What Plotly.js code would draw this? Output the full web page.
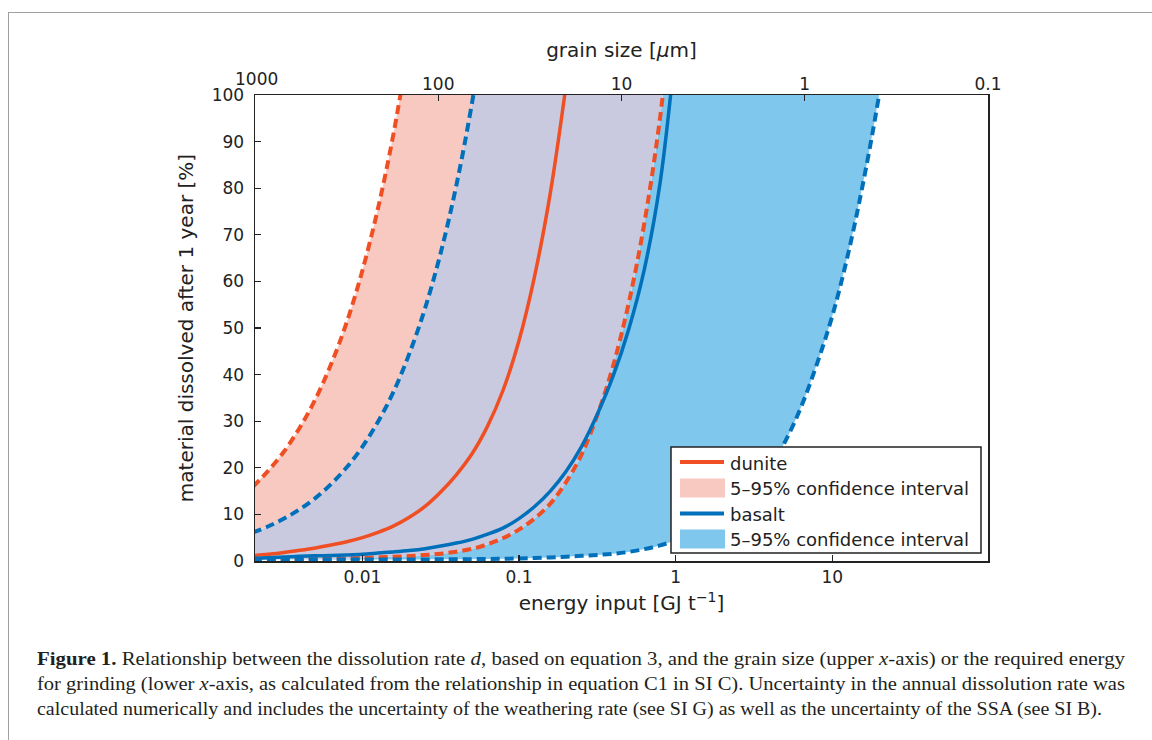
<!DOCTYPE html>
<html><head><meta charset="utf-8">
<script src="https://cdn.plot.ly/plotly-3.0.1.min.js"></script>
<style>
html,body{margin:0;padding:0;background:#fff;}
#wrap{position:relative;width:1152px;height:740px;overflow:hidden;background:#fff;}
#chart{position:absolute;left:0;top:0;width:1152px;height:740px;}
#frame{position:absolute;left:8px;top:12px;width:1300px;height:900px;border-left:1.5px solid #a0a0a0;border-top:1.5px solid #a0a0a0;pointer-events:none;}
.cap{position:absolute;left:37px;display:inline-block;white-space:nowrap;transform-origin:0 0;font-family:"Liberation Serif",serif;font-size:18px;color:#231f20;line-height:22px;}
</style></head>
<body>
<div id="wrap">
<div id="chart"></div>
<div id="frame"></div>
<div class="cap" data-w="1088" style="top:648px;"><b>Figure 1.</b> Relationship between the dissolution rate <i>d</i>, based on equation 3, and the grain size (upper <i>x</i>-axis) or the required energy</div>
<div class="cap" data-w="1088" style="top:673px;">for grinding (lower <i>x</i>-axis, as calculated from the relationship in equation C1 in SI C). Uncertainty in the annual dissolution rate was</div>
<div class="cap" data-w="1065" style="top:698px;">calculated numerically and includes the uncertainty of the weathering rate (see SI G) as well as the uncertainty of the SSA (see SI B).</div>
</div>
<script>
// ---- data ----
// energy input [GJ/t] sample points shared by all curves (each curve uses the first N of them)
const energyGrid = [0.001995, 0.002512, 0.003162, 0.003981, 0.005012, 0.006310, 0.007943, 0.01, 0.01259, 0.01585,
  0.01995, 0.02512, 0.03162, 0.03981, 0.05012, 0.06310, 0.07943, 0.1, 0.1259, 0.1585,
  0.1995, 0.2512, 0.3162, 0.3981, 0.5012, 0.6310, 0.7943, 1, 1.259, 1.585,
  1.995, 2.512, 3.162, 3.981, 5.012, 6.310, 7.943, 10, 12.59, 15.85,
  19.95, 25.12];

// material dissolved after 1 year [%]
const duniteHighPct = [15.9, 19.4, 23.5, 28.6, 34.7, 42.2, 51.2, 62.3, 75.7, 91.9, 111.7];
const duniteMedPct  = [1.16, 1.46, 1.83, 2.29, 2.80, 3.42, 4.13, 5.02, 6.15, 7.53, 9.39, 11.7, 14.8, 18.5, 23.0, 29.0, 36.8, 47.3, 61.2, 79.0, 102.0];
const duniteLowPct  = [0.3, 0.3, 0.32, 0.35, 0.4, 0.45, 0.55, 0.65, 0.78, 0.9, 1.07, 1.28, 1.55, 2.0, 2.6, 3.6, 4.93, 6.73, 9.14, 12.3, 16.9, 22.9, 31.3, 41.8, 55.3, 72.5, 95.0, 126.0];
const basaltHighPct = [6.1, 7.45, 9.1, 11.1, 13.5, 16.5, 20.1, 24.5, 29.9, 36.4, 44.5, 54.2, 66.1, 80.6, 98.3, 119.8];
const basaltMedPct  = [0.6, 0.7, 0.85, 1.0, 1.1, 1.2, 1.3, 1.45, 1.7, 1.95, 2.25, 2.65, 3.2, 3.85, 4.65, 5.75, 7.1, 9.1, 11.7, 15.0, 19.2, 24.6, 31.5, 39.6, 49.7, 62.6, 81.0, 110.6];
const basaltLowPct  = [0.3, 0.3, 0.3, 0.3, 0.3, 0.3, 0.3, 0.3, 0.3, 0.31, 0.32, 0.34, 0.36, 0.38, 0.4, 0.43, 0.48, 0.55, 0.63, 0.77,
  0.93, 1.12, 1.3, 1.55, 1.95, 2.55, 3.35, 4.4, 5.66, 7.28, 9.38, 12.1, 15.5, 20.0, 25.7, 33.0, 42.1, 52.6, 65.8, 81.7, 100.3, 123.0];

// ---- ticks / labels ----
const energyTicks = [0.01, 0.1, 1, 10];
const energyTickText = ['0.01', '0.1', '1', '10'];
const grainTicks = [100, 10, 1, 0.1];
const grainTickText = ['100', '10', '1', '0.1'];
const grainEdgeLabel = '1000';   // label of the left end of the grain-size axis
const pctTicks = [0, 10, 20, 30, 40, 50, 60, 70, 80, 90, 100];
const legendLabels = ['dunite', '5\u201395% confidence interval', 'basalt', '5\u201395% confidence interval'];

// ---- styles ----
const RED = 'rgb(240,78,35)', BLUE = 'rgb(0,112,186)';
const PINK = 'rgb(248,201,193)', LBLUE = 'rgb(128,199,238)', LAV = 'rgb(201,202,224)';
const TXT = '#222';
const FONT = 'DejaVu Sans';
const SHAPE = {shape: 'spline', smoothing: 1};
const ex = pct => energyGrid.slice(0, pct.length);

function fillTrace(y, fill, color) {
  const t = {x: ex(y), y: y, mode: 'lines', line: Object.assign({width: 0}, SHAPE), hoverinfo: 'skip', showlegend: false};
  if (fill) { t.fill = fill; t.fillcolor = color; }
  return t;
}
function lineTrace(y, color, dashed) {
  return {x: ex(y), y: y, mode: 'lines', hoverinfo: 'skip', showlegend: false,
    line: Object.assign({color: color, width: dashed ? 4 : 3.5, dash: dashed ? '9px,5px' : 'solid'}, SHAPE)};
}

const traces = [
  fillTrace(basaltLowPct),
  fillTrace(duniteLowPct, 'tonexty', LBLUE),
  fillTrace(basaltHighPct, 'tonexty', LAV),
  fillTrace(duniteHighPct, 'tonexty', PINK),
  lineTrace(duniteHighPct, RED, true),
  lineTrace(duniteLowPct, RED, true),
  lineTrace(duniteMedPct, RED, false),
  lineTrace(basaltHighPct, BLUE, true),
  lineTrace(basaltLowPct, BLUE, true),
  lineTrace(basaltMedPct, BLUE, false),
  // invisible anchor so the upper grain-size axis is drawn
  {x: grainTicks, y: grainTicks.map(() => 50), xaxis: 'x2', yaxis: 'y', mode: 'markers',
   marker: {opacity: 0, size: 1}, hoverinfo: 'skip', showlegend: false}
];

// plot-area geometry (pixels) used for the hand-drawn legend box
const L = 255, R = 988, T = 95, B = 561;
const px = v => (v - L) / (R - L);
const py = v => (B - v) / (B - T);

const shapes = [
  {type: 'rect', xref: 'paper', yref: 'paper', x0: px(671), x1: px(981), y0: py(553), y1: py(447), fillcolor: '#fff', line: {color: TXT, width: 1.5}},
  {type: 'line', xref: 'paper', yref: 'paper', x0: px(680), x1: px(724), y0: py(462), y1: py(462), line: {color: RED, width: 4}},
  {type: 'rect', xref: 'paper', yref: 'paper', x0: px(680), x1: px(725), y0: py(497.5), y1: py(478.5), fillcolor: PINK, line: {width: 0}},
  {type: 'line', xref: 'paper', yref: 'paper', x0: px(680), x1: px(724), y0: py(513.5), y1: py(513.5), line: {color: BLUE, width: 4}},
  {type: 'rect', xref: 'paper', yref: 'paper', x0: px(680), x1: px(725), y0: py(548.5), y1: py(529.5), fillcolor: LBLUE, line: {width: 0}}
];
const rowY = [463, 488.5, 514, 539.5];
const annotations = legendLabels.map((t, i) => ({
  text: t, xref: 'paper', yref: 'paper', x: px(728), y: py(rowY[i]), xanchor: 'left', yanchor: 'middle',
  showarrow: false, font: {family: FONT, size: 18, color: TXT}
}));
annotations.push({
  text: grainEdgeLabel, xref: 'paper', yref: 'paper', x: px(256), y: py(79), xanchor: 'center', yanchor: 'middle',
  showarrow: false, font: {family: FONT, size: 17, color: TXT}
});

const axisCommon = {
  showline: true, linecolor: TXT, linewidth: 1.5, ticks: 'inside', ticklen: 6, tickwidth: 1.2, tickcolor: TXT,
  showgrid: false, zeroline: false, tickfont: {family: FONT, size: 17, color: TXT}
};

const layout = {
  width: 1152, height: 740,
  margin: {l: L, r: 1152 - R, t: T, b: 740 - B},
  paper_bgcolor: '#fff', plot_bgcolor: '#fff',
  showlegend: false,
  font: {family: FONT, size: 17, color: TXT},
  xaxis: Object.assign({}, axisCommon, {
    type: 'log', range: [Math.log10(0.002064), Math.log10(98.6)],
    tickvals: energyTicks, ticktext: energyTickText, ticklabelstandoff: 0,
    title: {text: 'energy input [GJ t<sup>\u22121</sup>]', font: {family: FONT, size: 20, color: TXT}, standoff: 10}
  }),
  xaxis2: Object.assign({}, axisCommon, {
    type: 'log', overlaying: 'x', side: 'top', anchor: 'y', range: [3, -1],
    tickvals: grainTicks, ticktext: grainTickText, ticklabelstandoff: -3,
    title: {text: 'grain size [<i>\u03bc</i>m]', font: {family: FONT, size: 20, color: TXT}, standoff: 10}
  }),
  yaxis: Object.assign({}, axisCommon, {
    range: [0, 100], tickvals: pctTicks, mirror: true, ticklabelstandoff: 6,
    title: {text: 'material dissolved after 1 year [%]', font: {family: FONT, size: 20, color: TXT}, standoff: 12}
  }),
  shapes: shapes,
  annotations: annotations
};

Plotly.newPlot('chart', traces, layout, {displayModeBar: false, staticPlot: true});

function fitCaption() {
  document.querySelectorAll('.cap').forEach(el => {
    el.style.transform = 'none';
    const w = el.getBoundingClientRect().width;
    el.style.transform = 'scaleX(' + (Number(el.dataset.w) / w) + ')';
  });
}
fitCaption();
if (document.fonts && document.fonts.ready) document.fonts.ready.then(fitCaption);
</script>
</body></html>
